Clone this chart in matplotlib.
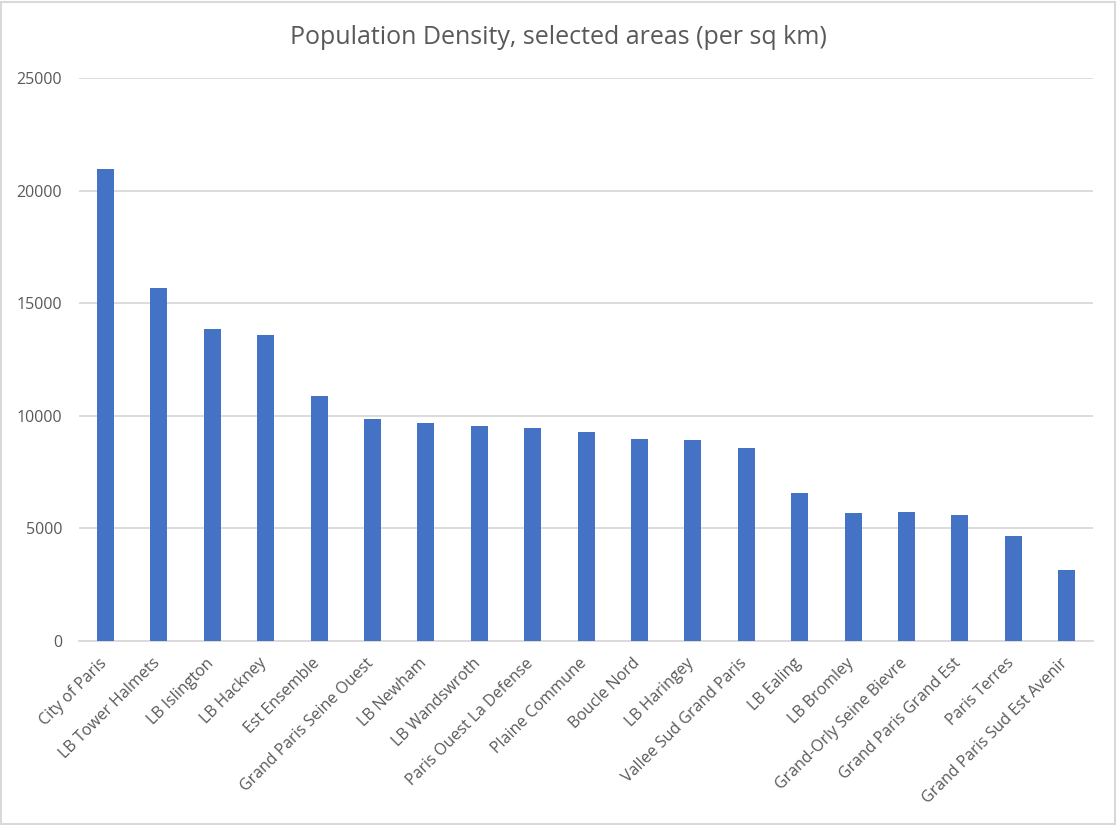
import matplotlib.pyplot as plt
import matplotlib.transforms as mtransforms
from matplotlib.patches import Rectangle

areas = ['City of Paris', 'LB Tower Halmets', 'LB Islington', 'LB Hackney',
         'Est Ensemble', 'Grand Paris Seine Ouest', 'LB Newham', 'LB Wandswroth',
         'Paris Ouest La Defense', 'Plaine Commune', 'Boucle Nord', 'LB Haringey',
         'Vallee Sud Grand Paris', 'LB Ealing', 'LB Bromley', 'Grand-Orly Seine Bievre',
         'Grand Paris Grand Est', 'Paris Terres', 'Grand Paris Sud Est Avenir']
density = [20960, 15670, 13850, 13580, 10870, 9850, 9670, 9540, 9450, 9270,
           8960, 8915, 8560, 6580, 5690, 5735, 5560, 4665, 3150]
yticks = [0, 5000, 10000, 15000, 20000, 25000]

plt.rcParams['font.family'] = ['Open Sans', 'DejaVu Sans']
text_col = '#595959'
grid_col = '#d9d9d9'

fig = plt.figure(figsize=(11.17, 8.25), dpi=100)
ax = fig.add_axes([78.8 / 1117, 1 - 640.6 / 825, (1093.4 - 78.8) / 1117, (640.6 - 78) / 825])

x = range(len(areas))
ax.bar(x, density, width=0.32, color='#4472c4', zorder=3)

ax.set_xlim(-0.5, len(areas) - 0.5)
ax.set_ylim(0, 25000)
ax.set_yticks(yticks)
ax.set_yticklabels([str(v) for v in yticks], fontsize=11.5, color=text_col)
ax.set_xticks(list(x))
ax.set_xticklabels(areas, rotation=45, ha='right', rotation_mode='anchor',
                   fontsize=11.5, color=text_col)
ax.tick_params(axis='both', length=0)
ax.tick_params(axis='y', pad=12)
ax.tick_params(axis='x', pad=7)
ax.yaxis.grid(True, color=grid_col, linewidth=1.3, zorder=0)
for s in ['top', 'right', 'left']:
    ax.spines[s].set_visible(False)
ax.spines['bottom'].set_color(grid_col)
ax.spines['bottom'].set_linewidth(1.3)

# nudge the slanted labels a bit left/down, like Excel places them
shift = mtransforms.ScaledTranslation(-7 / 100, -5 / 100, fig.dpi_scale_trans)
for lbl in ax.get_xticklabels():
    lbl.set_transform(lbl.get_transform() + shift)

fig.text(0.5, 1 - 38 / 825, 'Population Density, selected areas (per sq km)',
         ha='center', va='center', fontsize=18, color=text_col)

fig.patches.append(Rectangle((0.001, 0.001), 0.997, 0.997, transform=fig.transFigure,
                             fill=False, edgecolor=grid_col, linewidth=1.5))

fig.savefig('out.png', dpi=100)
